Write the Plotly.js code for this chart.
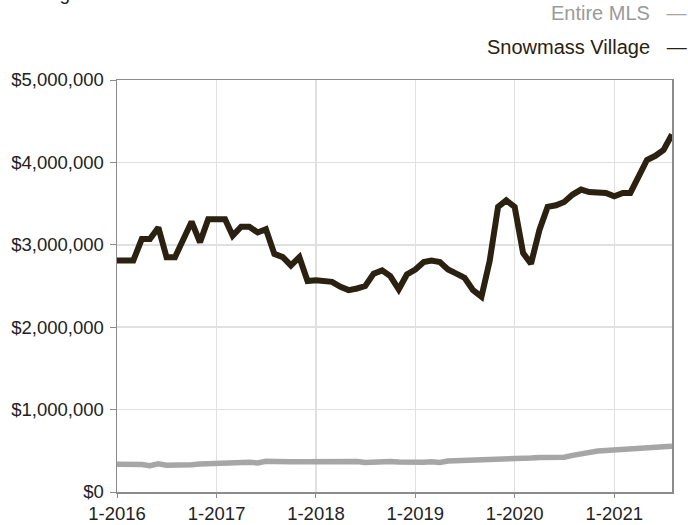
<!DOCTYPE html>
<html>
<head>
<meta charset="utf-8">
<script src="https://cdn.plot.ly/plotly-3.0.1.min.js"></script>
<style>
  html, body { margin: 0; padding: 0; background: #ffffff; }
  #chart { width: 688px; height: 525px; }
</style>
</head>
<body>
<div id="chart"></div>
<script>
// Months Jan 2016 – Aug 2021
const months = [
  "2016-01-01","2016-02-01","2016-03-01","2016-04-01","2016-05-01","2016-06-01","2016-07-01","2016-08-01","2016-09-01","2016-10-01","2016-11-01","2016-12-01",
  "2017-01-01","2017-02-01","2017-03-01","2017-04-01","2017-05-01","2017-06-01","2017-07-01","2017-08-01","2017-09-01","2017-10-01","2017-11-01","2017-12-01",
  "2018-01-01","2018-02-01","2018-03-01","2018-04-01","2018-05-01","2018-06-01","2018-07-01","2018-08-01","2018-09-01","2018-10-01","2018-11-01","2018-12-01",
  "2019-01-01","2019-02-01","2019-03-01","2019-04-01","2019-05-01","2019-06-01","2019-07-01","2019-08-01","2019-09-01","2019-10-01","2019-11-01","2019-12-01",
  "2020-01-01","2020-02-01","2020-03-01","2020-04-01","2020-05-01","2020-06-01","2020-07-01","2020-08-01","2020-09-01","2020-10-01","2020-11-01","2020-12-01",
  "2021-01-01","2021-02-01","2021-03-01","2021-04-01","2021-05-01","2021-06-01","2021-07-01","2021-08-01"
];

const snowmassVillage = [
  2810000,2810000,2810000,3070000,3070000,3210000,2850000,2850000,3050000,3280000,3030000,3310000,
  3310000,3310000,3110000,3220000,3220000,3150000,3190000,2890000,2850000,2750000,2850000,2560000,
  2570000,2560000,2550000,2490000,2450000,2470000,2500000,2650000,2690000,2620000,2460000,2640000,
  2700000,2790000,2810000,2790000,2700000,2650000,2600000,2450000,2370000,2800000,3460000,3540000,
  3460000,2900000,2770000,3180000,3460000,3480000,3520000,3610000,3670000,3640000,3640000,3630000,
  3590000,3630000,3630000,3820000,4030000,4080000,4150000,4340000
];

const entireMLS = [
  336000,336000,336000,334000,318000,342000,326000,325000,326000,332000,340000,345000,
  352000,350000,352000,356000,360000,352000,372000,370000,362000,366000,366000,368000,
  368000,368000,370000,370000,372000,370000,358000,366000,372000,370000,364000,360000,
  358000,360000,368000,358000,376000,378000,388000,390000,390000,390000,392000,400000,
  400000,405000,412000,418000,415000,420000,422000,445000,468000,490000,498000,504000,
  508000,512000,516000,522000,526000,530000,548000,556000
];

const seriesNames = ["Entire MLS", "Snowmass Village"];
const xTickVals = ["2016-01-01","2017-01-01","2018-01-01","2019-01-01","2020-01-01","2021-01-01"];
const xTickText = ["1-2016","1-2017","1-2018","1-2019","1-2020","1-2021"];
const yTickVals = [0,1000000,2000000,3000000,4000000,5000000];
const yTickText = ["$0","$1,000,000","$2,000,000","$3,000,000","$4,000,000","$5,000,000"];
const chartSubtitle = "Rolling 12-Month Calculation";

const colMLS = "#a6a6a6";
const colSV = "#2a2110";

const traces = [
  { x: months, y: entireMLS, name: seriesNames[0], type: "scatter", mode: "lines",
    line: { color: colMLS, width: 5.5 }, hoverinfo: "skip" },
  { x: months, y: snowmassVillage, name: seriesNames[1], type: "scatter", mode: "lines",
    line: { color: colSV, width: 6 }, hoverinfo: "skip" }
];

const font = "'Liberation Sans', Arial, Helvetica, sans-serif";

const layout = {
  width: 688, height: 525,
  margin: { l: 117, r: 16, t: 80, b: 33 },
  paper_bgcolor: "#ffffff", plot_bgcolor: "#ffffff",
  showlegend: false,
  font: { family: font, size: 19, color: "#222222" },
  xaxis: {
    type: "date",
    range: ["2016-01-01", "2021-08-01"],
    tickvals: xTickVals, ticktext: xTickText,
    showgrid: true, gridcolor: "#e0e0e0", gridwidth: 1.5,
    showline: true, linecolor: "#8c8c8c", linewidth: 1.5, mirror: true,
    ticks: "outside", ticklen: 4, tickcolor: "#8c8c8c", tickwidth: 1,
    tickfont: { family: font, size: 18.5, color: "#222222" },
    zeroline: false, fixedrange: true
  },
  yaxis: {
    range: [0, 5000000],
    tickvals: yTickVals, ticktext: yTickText,
    showgrid: true, gridcolor: "#e0e0e0", gridwidth: 1.5,
    showline: true, linecolor: "#8c8c8c", linewidth: 1.5, mirror: true,
    ticks: "outside", ticklen: 6, tickcolor: "#8c8c8c", tickwidth: 1,
    tickfont: { family: font, size: 18.5, color: "#222222" },
    ticklabelstandoff: 2,
    zeroline: false, fixedrange: true
  },
  annotations: [
    { xref: "paper", yref: "paper", x: -0.193, y: 1.1796, xanchor: "left", yanchor: "bottom",
      text: chartSubtitle, showarrow: false, font: { family: font, size: 19, color: "#222222" } },
    { xref: "paper", yref: "paper", x: 1.03, y: 1.1626, xanchor: "right", yanchor: "middle",
      text: seriesNames[0] + "   <span style='color:" + colMLS + "'>—</span>", showarrow: false,
      font: { family: font, size: 20, color: "#9a9a9a" } },
    { xref: "paper", yref: "paper", x: 1.03, y: 1.080, xanchor: "right", yanchor: "middle",
      text: seriesNames[1] + "   <span style='color:" + colSV + "'>—</span>", showarrow: false,
      font: { family: font, size: 20, color: colSV } }
  ]
};

Plotly.newPlot("chart", traces, layout, { displayModeBar: false, staticPlot: true });
</script>
</body>
</html>
